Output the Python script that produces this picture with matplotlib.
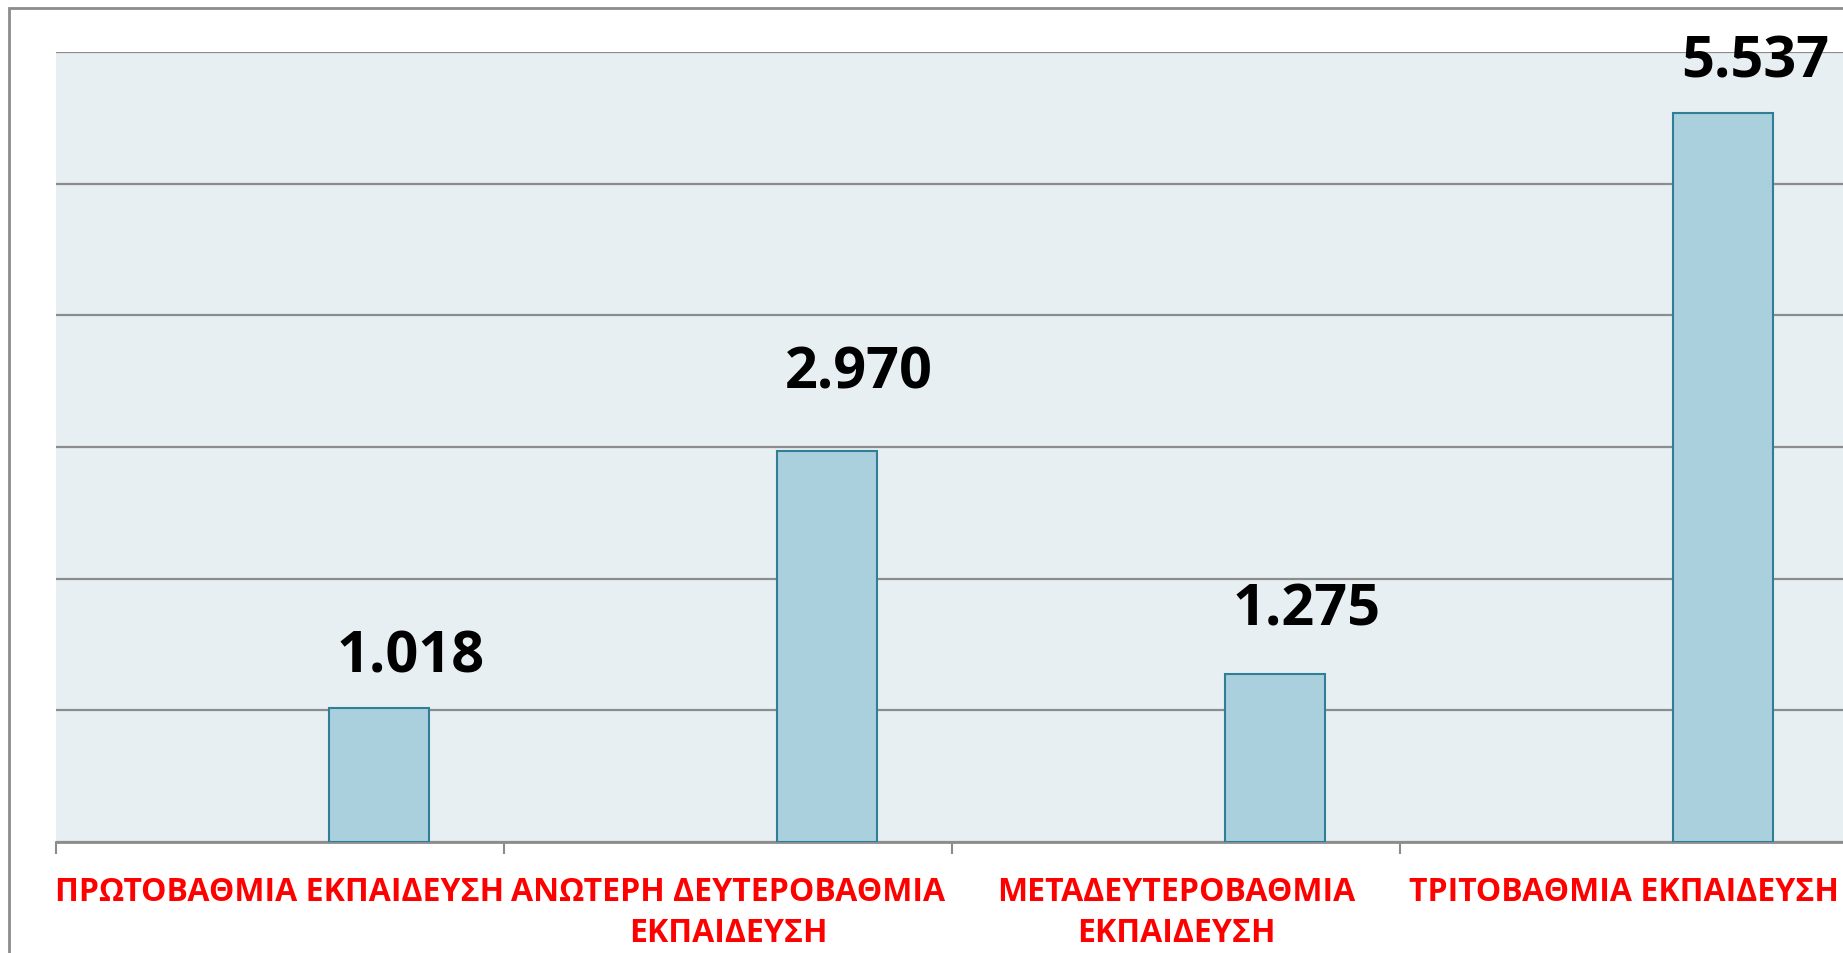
import matplotlib.pyplot as plt
from matplotlib.patches import Rectangle
import numpy as np

plt.rcParams['font.family'] = ['Open Sans', 'DejaVu Sans']

categories = ['ΠΡΩΤΟΒΑΘΜΙΑ ΕΚΠΑΙΔΕΥΣΗ',
              'ΑΝΩΤΕΡΗ ΔΕΥΤΕΡΟΒΑΘΜΙΑ\nΕΚΠΑΙΔΕΥΣΗ',
              'ΜΕΤΑΔΕΥΤΕΡΟΒΑΘΜΙΑ\nΕΚΠΑΙΔΕΥΣΗ',
              'ΤΡΙΤΟΒΑΘΜΙΑ ΕΚΠΑΙΔΕΥΣΗ']
values = [1.018, 2.970, 1.275, 5.537]
value_labels = ['1.018', '2.970', '1.275', '5.537']

# label placement above each bar (points), as in the original sheet
label_dy = [26.6, 46.0, 36.0, 26.6]

fig = plt.figure(figsize=(18.43, 9.54), dpi=100)
fig.patch.set_facecolor('white')
fig.patches.append(Rectangle((9 / 1843, -0.05), 1.1, 1 - 9 / 954 + 0.05,
                             transform=fig.transFigure, fill=False,
                             ec='#8c8c8c', lw=2, zorder=0))

ax = fig.add_axes([56 / 1843, 111 / 954, 1792 / 1843, 790 / 954])
ax.set_facecolor('#e8eff3')

x = np.arange(len(values))
bar_w = 0.223
bar_off = 0.221
rects = ax.bar(x + bar_off, values, bar_w, color='#aacfdd',
               edgecolor='#2f7f95', linewidth=1.5, zorder=3)

for rect, lab, dy in zip(rects, value_labels, label_dy):
    ax.annotate(lab, xy=(rect.get_x() + rect.get_width() / 2, rect.get_height()),
                xytext=(23, dy), textcoords='offset points',
                ha='center', va='baseline', fontsize=41.5, fontweight='bold',
                color='black', annotation_clip=False)

ax.set_xlim(-0.5, 3.5)
ax.set_ylim(0, 6)
ax.set_yticks(np.arange(0, 7))
ax.set_yticklabels([])
ax.tick_params(axis='y', length=0)
ax.yaxis.grid(True, color='#8c8c8c', linewidth=1.6, zorder=1)
ax.set_axisbelow(True)

ax.set_xticks(x)
ax.set_xticklabels(categories, color='#ff0000', fontsize=23,
                   fontweight='bold', linespacing=1.3)
ax.tick_params(axis='x', which='major', length=0, pad=24)
ax.set_xticks(np.arange(-0.5, 4.0, 1.0), minor=True)
ax.tick_params(axis='x', which='minor', length=8.6, width=1.5,
               color='#8c8c8c', direction='out')

for s in ['left', 'right', 'top']:
    ax.spines[s].set_visible(False)
ax.spines['bottom'].set_color('#8c8c8c')
ax.spines['bottom'].set_linewidth(2)

plt.savefig('out.png', dpi=100)
